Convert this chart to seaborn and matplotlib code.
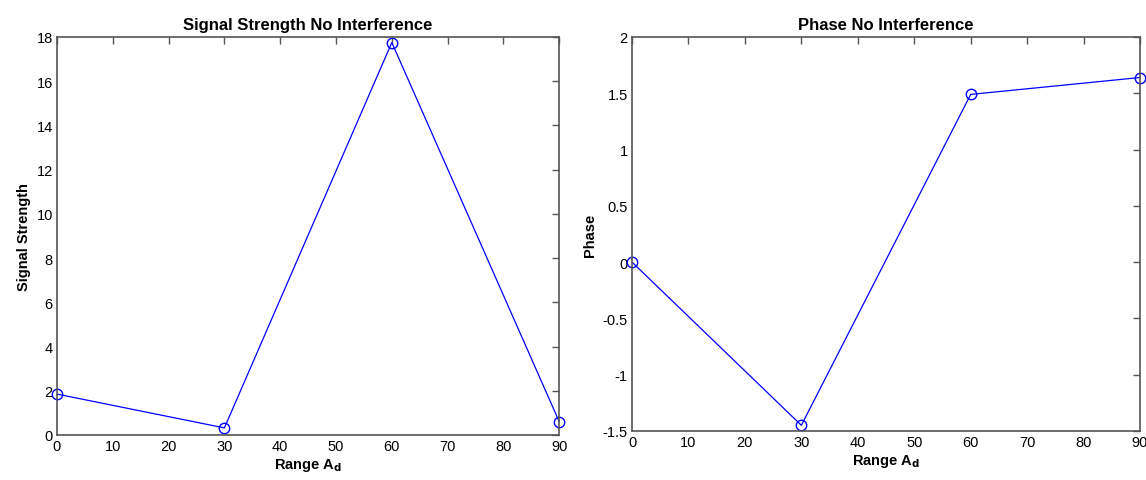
import matplotlib
matplotlib.use("Agg")
import matplotlib.pyplot as plt
import seaborn as sns
import pandas as pd

sns.set_theme(style="white")
plt.rcParams['font.family'] = ['Liberation Sans', 'DejaVu Sans']
plt.rcParams['text.color'] = 'black'
plt.rcParams['axes.labelcolor'] = 'black'

range_ad = [0, 30, 60, 90]
signal_strength = [1.85, 0.32, 17.75, 0.6]
phase = [0.0, -1.45, 1.49, 1.64]

df = pd.DataFrame({"range": range_ad, "signal": signal_strength, "phase": phase})

fig = plt.figure(figsize=(11.46, 4.81), dpi=100)
ax1 = fig.add_axes([0.0497, 0.0936, 0.4383, 0.8274])
ax2 = fig.add_axes([0.5515, 0.102, 0.4433, 0.819])

def style(ax, title, ylabel, yticks, ylim):
    ax.set_xlim(0, 90)
    ax.set_ylim(*ylim)
    ax.set_xticks(range(0, 91, 10))
    ax.set_yticks(yticks)
    ax.set_yticklabels([("%g" % t) for t in yticks])
    ax.tick_params(direction='in', top=True, right=True, length=5, width=1,
                   color='#555555', labelsize=10.5, pad=3, labelcolor='black')
    for s in ax.spines.values():
        s.set_color('#555555')
        s.set_linewidth(1.2)
    ax.set_title(title, fontsize=12, fontweight='bold', pad=6, color='black')
    ax.set_xlabel("Range A$_\\mathbf{d}$", fontsize=10.5, fontweight='bold', labelpad=2)
    ax.set_ylabel(ylabel, fontsize=10.5, fontweight='bold', labelpad=4)

sns.lineplot(data=df, x="range", y="signal", ax=ax1, color='blue', linewidth=0.9,
             marker='o', markersize=7.5, markerfacecolor='none', markeredgecolor='blue',
             markeredgewidth=1.0)
style(ax1, "Signal Strength No Interference", "Signal Strength",
      list(range(0, 19, 2)), (0, 18))

sns.lineplot(data=df, x="range", y="phase", ax=ax2, color='blue', linewidth=0.9,
             marker='o', markersize=7.5, markerfacecolor='none', markeredgecolor='blue',
             markeredgewidth=1.0)
style(ax2, "Phase No Interference", "Phase",
      [-1.5, -1, -0.5, 0, 0.5, 1, 1.5, 2], (-1.5, 2))

for ax in (ax1, ax2):
    for l in ax.lines:
        l.set_clip_on(False)

fig.savefig("out.png", dpi=100)
